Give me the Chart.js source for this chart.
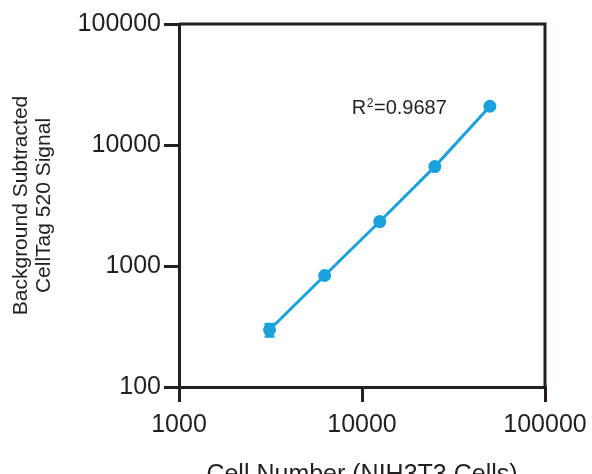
<!DOCTYPE html>
<html>
<head>
<meta charset="utf-8">
<script src="https://cdn.jsdelivr.net/npm/chart.js@4"></script>
<style>
  html, body { margin: 0; padding: 0; background: #fff; overflow: hidden; }
  #wrap { position: relative; width: 592px; height: 490px; }
</style>
</head>
<body>
<div id="wrap"><canvas id="c"></canvas></div>
<script>
// ---- data ----
const cellNumbers = [3125, 6250, 12500, 25000, 50000];
const signalValues = [297, 835, 2330, 6630, 20900];
const signalErrors = [35, 20, 40, 90, 200];
const xTickValues = [1000, 10000, 100000];
const xTickLabels = ['1000', '10000', '100000'];
const yTickValues = [100, 1000, 10000, 100000];
const yTickLabels = ['100', '1000', '10000', '100000'];
const annotationText = { base: 'R', sup: '2', rest: '=0.9687' };
const annotationAnchor = { x: 8800, y: 18000 };

const INK = '#231f20';
const BLUE = '#1ba1db';
const FONT = "'Liberation Sans', Arial, Helvetica, sans-serif";

const framePlugin = {
  id: 'frame',
  afterDraw(chart) {
    const { ctx, chartArea: a } = chart;
    ctx.save();
    ctx.strokeStyle = INK;
    ctx.lineWidth = 3;
    ctx.beginPath();
    ctx.moveTo(a.left, a.top);
    ctx.lineTo(a.right, a.top);
    ctx.lineTo(a.right, a.bottom);
    ctx.stroke();
    ctx.restore();
  }
};

const errorBarPlugin = {
  id: 'errorBars',
  beforeDatasetsDraw(chart) {
    const { ctx, scales } = chart;
    ctx.save();
    ctx.strokeStyle = BLUE;
    ctx.lineWidth = 2.5;
    cellNumbers.forEach((xv, i) => {
      const x = scales.x.getPixelForValue(xv);
      const yTop = scales.y.getPixelForValue(signalValues[i] + signalErrors[i]);
      const yBot = scales.y.getPixelForValue(signalValues[i] - signalErrors[i]);
      const cap = 5;
      ctx.beginPath();
      ctx.moveTo(x, yTop); ctx.lineTo(x, yBot);
      ctx.moveTo(x - cap, yTop); ctx.lineTo(x + cap, yTop);
      ctx.moveTo(x - cap, yBot); ctx.lineTo(x + cap, yBot);
      ctx.stroke();
    });
    ctx.restore();
  }
};

const annotationPlugin = {
  id: 'r2',
  afterDatasetsDraw(chart) {
    const { ctx, scales } = chart;
    const x = scales.x.getPixelForValue(annotationAnchor.x);
    const y = scales.y.getPixelForValue(annotationAnchor.y);
    ctx.save();
    ctx.fillStyle = INK;
    ctx.textBaseline = 'alphabetic';
    ctx.textAlign = 'left';
    ctx.font = '20px ' + FONT;
    ctx.fillText(annotationText.base, x, y);
    let w = ctx.measureText(annotationText.base).width;
    ctx.font = '12px ' + FONT;
    ctx.fillText(annotationText.sup, x + w + 0.5, y - 7);
    w += ctx.measureText(annotationText.sup).width + 1;
    ctx.font = '20px ' + FONT;
    ctx.fillText(annotationText.rest, x + w, y);
    ctx.restore();
  }
};

new Chart(document.getElementById('c'), {
  type: 'line',
  data: {
    datasets: [{
      data: cellNumbers.map((x, i) => ({ x, y: signalValues[i] })),
      borderColor: BLUE,
      backgroundColor: BLUE,
      borderWidth: 3,
      pointRadius: 6.5,
      pointBorderWidth: 0,
      pointBackgroundColor: BLUE,
      tension: 0,
      fill: false
    }]
  },
  options: {
    responsive: true,
    maintainAspectRatio: false,
    animation: false,
    devicePixelRatio: 1,
    layout: { padding: { top: 24, right: 47, left: 0, bottom: 0 } },
    plugins: { legend: { display: false }, tooltip: { enabled: false } },
    scales: {
      x: {
        type: 'logarithmic',
        min: 1000, max: 100000,
        afterBuildTicks(s) { s.ticks = xTickValues.map(v => ({ value: v })); },
        afterFit(s) { s.height = 103; s.paddingRight = 0; s.paddingLeft = 0; },
        grid: { drawOnChartArea: false, drawTicks: true, tickLength: 15, lineWidth: 3, color: INK },
        border: { display: true, width: 3, color: INK },
        ticks: {
          color: INK, padding: 8, maxRotation: 0, autoSkip: false,
          font: { family: FONT, size: 25 },
          callback: (v, i) => xTickLabels[i]
        },
        title: {
          display: true, text: 'Cell Number (NIH3T3 Cells)', color: INK,
          font: { family: FONT, size: 25 }, padding: { top: 0, bottom: 0 }
        }
      },
      y: {
        type: 'logarithmic',
        min: 100, max: 100000,
        afterBuildTicks(s) { s.ticks = yTickValues.map(v => ({ value: v })); },
        afterFit(s) { s.width = 179; },
        grid: { drawOnChartArea: false, drawTicks: true, tickLength: 15, lineWidth: 3, color: INK },
        border: { display: true, width: 3, color: INK },
        ticks: {
          color: INK, padding: 3, autoSkip: false,
          font: { family: FONT, size: 25 },
          callback: (v, i) => yTickLabels[i]
        },
        title: {
          display: true, text: ['Background Subtracted', 'CellTag 520 Signal'], color: INK,
          font: { family: FONT, size: 21, lineHeight: 1.1 }, padding: { top: 9.5, bottom: 0 }
        }
      }
    }
  },
  plugins: [framePlugin, errorBarPlugin, annotationPlugin]
});
</script>
</body>
</html>
